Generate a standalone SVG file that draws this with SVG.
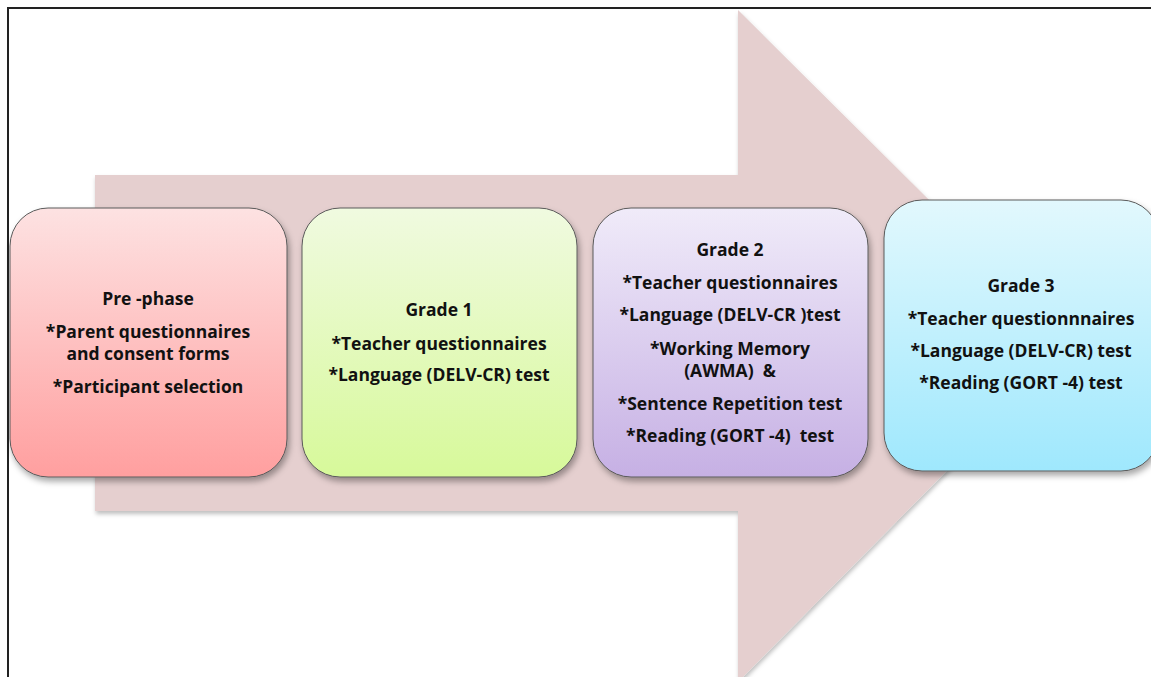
<svg xmlns="http://www.w3.org/2000/svg" width="1151" height="677" viewBox="0 0 1151 677">
<defs>
<style>
.box{stroke:#5a5a5a;stroke-width:1;filter:url(#sh)}
.t{font-family:"Open Sans","Liberation Sans",sans-serif;font-weight:bold;font-size:17.5px;fill:#111;text-anchor:middle}
</style>
<filter id="sh" x="-10%" y="-10%" width="125%" height="125%">
<feDropShadow dx="2" dy="4" stdDeviation="3" flood-color="#000" flood-opacity="0.35"/>
</filter>
<filter id="ash" x="-5%" y="-5%" width="115%" height="115%">
<feDropShadow dx="1" dy="3" stdDeviation="2" flood-color="#000" flood-opacity="0.25"/>
</filter>
<linearGradient id="g1" x1="0" y1="0" x2="0" y2="1"><stop offset="0" stop-color="#fde2e2"/><stop offset="1" stop-color="#ff9f9f"/></linearGradient>
<linearGradient id="g2" x1="0" y1="0" x2="0" y2="1"><stop offset="0" stop-color="#f0fae0"/><stop offset="1" stop-color="#d7f99a"/></linearGradient>
<linearGradient id="g3" x1="0" y1="0" x2="0" y2="1"><stop offset="0" stop-color="#f0ebf9"/><stop offset="1" stop-color="#c6b0e4"/></linearGradient>
<linearGradient id="g4" x1="0" y1="0" x2="0" y2="1"><stop offset="0" stop-color="#e2f8fd"/><stop offset="1" stop-color="#9fe8fd"/></linearGradient>
</defs>
<rect x="0" y="0" width="1151" height="677" fill="#fff"/>
<g id="connectors">
<path d="M95,175 H738 V10 L1073,343 L738,682 V511 H95 Z" fill="#e5cfcf" filter="url(#ash)"/>
</g>
<path d="M8,677 V8 H1151" fill="none" stroke="#222" stroke-width="2"/>
<g id="node-prephase">
<rect class="box" x="10" y="208" width="277" height="269" rx="38" fill="url(#g1)"/>
<text class="t" x="148" y="305">Pre -phase</text>
<text class="t" x="148" y="338">*Parent questionnaires</text>
<text class="t" x="148" y="360">and consent forms</text>
<text class="t" x="148" y="393">*Participant selection</text>
</g>
<g id="node-grade1">
<rect class="box" x="302" y="208" width="275" height="269" rx="38" fill="url(#g2)"/>
<text class="t" x="439" y="316">Grade 1</text>
<text class="t" x="439" y="350">*Teacher questionnaires</text>
<text class="t" x="439" y="381">*Language (DELV-CR) test</text>
</g>
<g id="node-grade2">
<rect class="box" x="593" y="208" width="275" height="269" rx="38" fill="url(#g3)"/>
<text class="t" x="730" y="256">Grade 2</text>
<text class="t" x="730" y="289">*Teacher questionnaires</text>
<text class="t" x="730" y="321">*Language (DELV-CR )test</text>
<text class="t" x="730" y="355">*Working Memory</text>
<text class="t" x="730" y="377" xml:space="preserve">(AWMA)  &amp;</text>
<text class="t" x="730" y="410">*Sentence Repetition test</text>
<text class="t" x="730" y="442" xml:space="preserve">*Reading (GORT -4)  test</text>
</g>
<g id="node-grade3">
<rect class="box" x="884" y="200" width="275" height="271" rx="38" fill="url(#g4)"/>
<text class="t" x="1021" y="292">Grade 3</text>
<text class="t" x="1021" y="325">*Teacher questionnnaires</text>
<text class="t" x="1021" y="357">*Language (DELV-CR) test</text>
<text class="t" x="1021" y="389">*Reading (GORT -4) test</text>
</g>
</svg>
